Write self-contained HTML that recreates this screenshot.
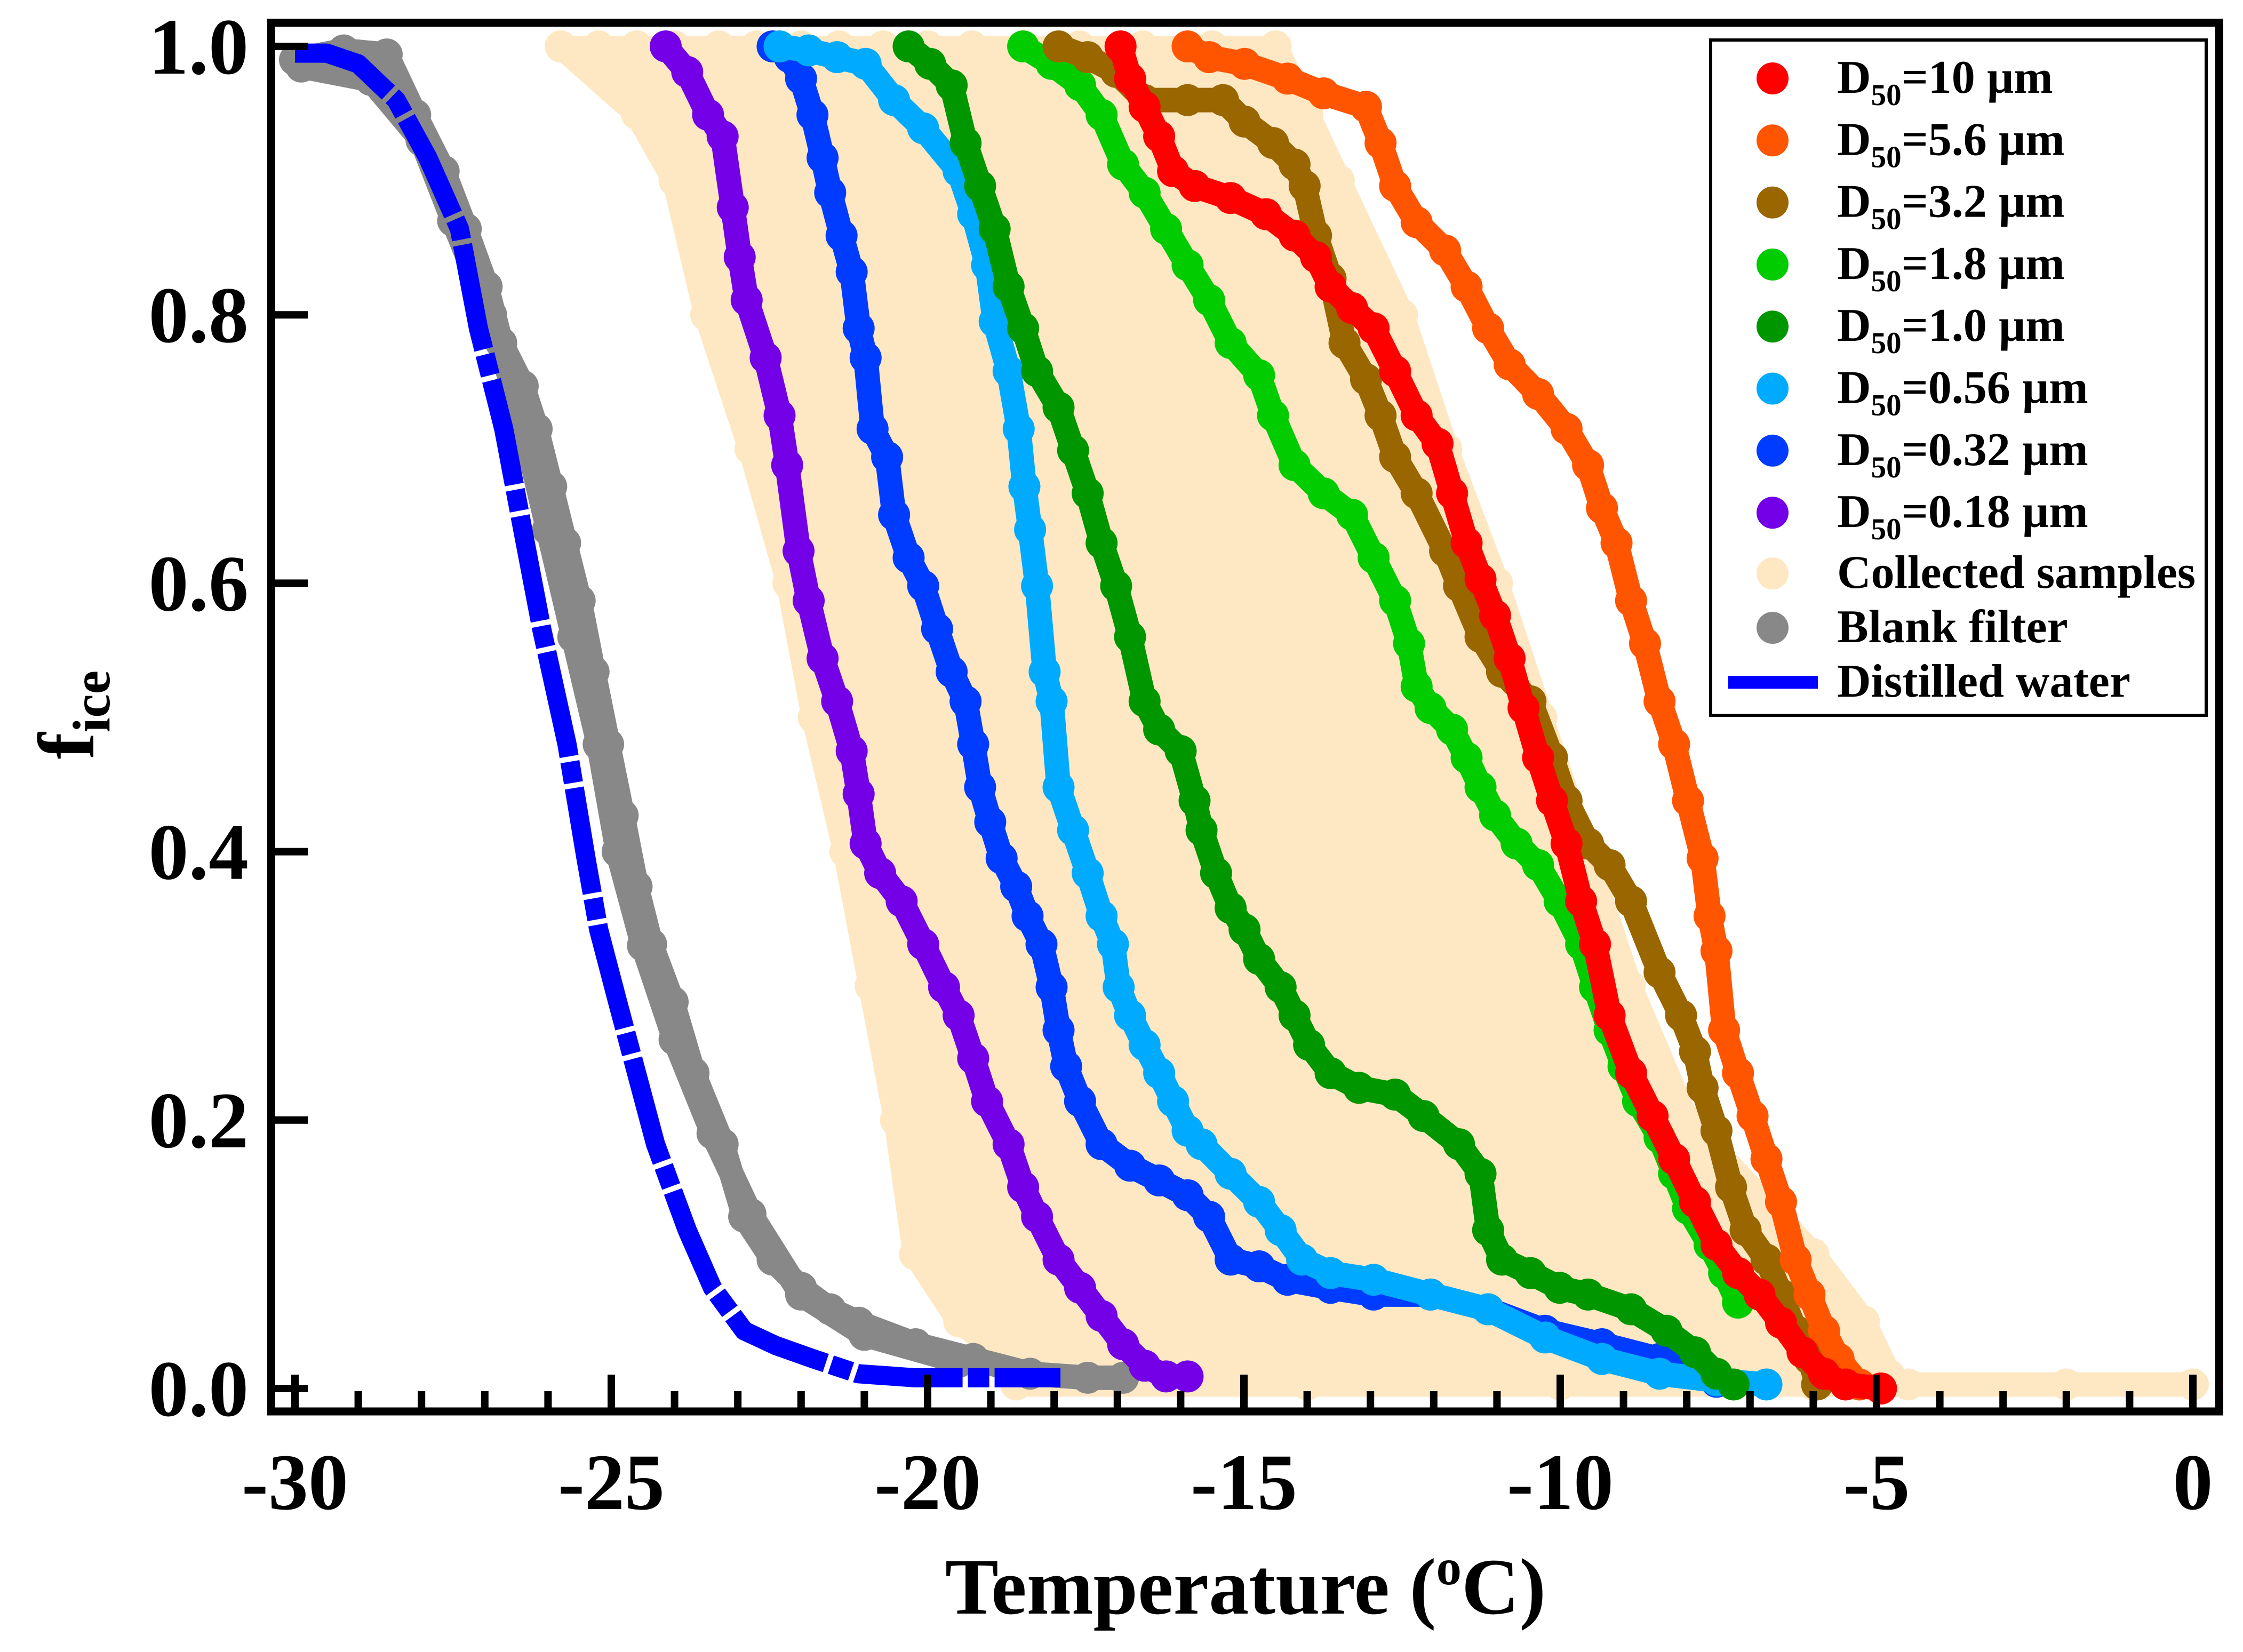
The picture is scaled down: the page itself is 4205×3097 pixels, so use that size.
<!DOCTYPE html>
<html><head><meta charset="utf-8"><style>
html,body{margin:0;padding:0;background:#fff}
svg{display:block}
text{font-family:"Liberation Serif",serif;font-weight:bold;fill:#000}
</style></head><body>
<svg id="chart" width="4205" height="3097" viewBox="0 0 4205 3097" xmlns="http://www.w3.org/2000/svg">
<g id="plot"></g>
<g id="axes"></g>
<g id="legend"></g>
</svg>
<script>
// ---- data (temperature in °C, frozen fraction f_ice) ----
const xTicks = [-30, -25, -20, -15, -10, -5, 0];
const xTickLabels = ["-30", "-25", "-20", "-15", "-10", "-5", "0"];
const yTicks = [0, 0.2, 0.4, 0.6, 0.8, 1.0];
const yTickLabels = ["0.0", "0.2", "0.4", "0.6", "0.8", "1.0"];

const waterT = [-30,-29.5,-29,-28.4,-27.9,-27.4,-27.1,-26.7,-26.4,-26.1,-25.7,-25.4,-25.2,-24.9,-24.6,-24.3,-23.8,-23.4,-22.9,-22.4,-21.8,-21.1,-20.2,-18.8,-17.9];
const waterF = [0.995,0.995,0.987,0.96,0.917,0.864,0.79,0.715,0.64,0.566,0.48,0.395,0.342,0.288,0.235,0.182,0.118,0.075,0.043,0.032,0.022,0.011,0.008,0.008,0.008];

const blankT = [-30.0,-29.23,-28.55,-28.1,-27.65,-27.3,-26.97,-26.74,-26.4,-26.18,-25.95,-25.73,-25.5,-25.28,-25.05,-24.82,-24.6,-24.37,-24.03,-23.7,-23.24,-22.9,-22.45,-22.0,-21.54,-21.09,-20.19,-19.28,-18.38,-17.47,-16.91];
const blankF = [0.99,0.997,0.994,0.949,0.907,0.864,0.821,0.779,0.747,0.715,0.672,0.63,0.587,0.534,0.48,0.427,0.374,0.331,0.288,0.235,0.182,0.128,0.096,0.075,0.059,0.049,0.033,0.022,0.011,0.008,0.008];
const blank2T = [-29.9,-28.8,-28.0,-27.5,-26.9,-26.4,-26.0,-25.6,-25.2,-24.9,-24.5,-24.0,-23.4,-22.8,-22.0,-21.0,-19.5];
const blank2F = [0.985,0.975,0.93,0.87,0.8,0.72,0.64,0.56,0.48,0.4,0.33,0.26,0.19,0.13,0.07,0.04,0.02];

const d018T = [-24.14,-23.8,-23.47,-23.24,-23.08,-22.97,-22.86,-22.56,-22.34,-22.22,-22.04,-21.88,-21.66,-21.43,-21.2,-21.09,-20.98,-20.75,-20.41,-20.07,-19.74,-19.51,-19.28,-19.06,-18.72,-18.49,-18.27,-17.93,-17.59,-17.25,-16.91,-16.57,-16.23,-15.89];
const d018F = [1.0,0.981,0.949,0.933,0.88,0.843,0.811,0.768,0.725,0.688,0.624,0.587,0.544,0.512,0.475,0.443,0.406,0.384,0.363,0.331,0.299,0.278,0.246,0.214,0.182,0.15,0.128,0.096,0.075,0.054,0.033,0.017,0.009,0.009];

const d032T = [-22.45,-22.18,-22.0,-21.82,-21.66,-21.54,-21.36,-21.2,-21.09,-20.98,-20.87,-20.64,-20.53,-20.3,-20.07,-19.85,-19.62,-19.4,-19.28,-19.17,-19.01,-18.83,-18.6,-18.42,-18.2,-18.04,-17.93,-17.81,-17.59,-17.25,-16.8,-16.34,-15.89,-15.55,-15.21,-14.76,-14.31,-13.63,-12.95,-12.05,-11.14,-10.24,-9.34,-8.43,-7.87,-7.53];
const d032F = [1.0,0.992,0.976,0.949,0.917,0.891,0.859,0.832,0.79,0.768,0.715,0.694,0.651,0.619,0.598,0.566,0.534,0.512,0.48,0.448,0.422,0.395,0.374,0.352,0.331,0.299,0.267,0.24,0.214,0.182,0.166,0.155,0.144,0.128,0.096,0.091,0.081,0.075,0.07,0.07,0.059,0.043,0.033,0.022,0.011,0.005];

const d056T = [-22.34,-21.88,-21.43,-20.98,-20.53,-20.07,-19.51,-19.28,-19.06,-18.94,-18.72,-18.56,-18.47,-18.38,-18.27,-18.15,-18.04,-17.93,-17.7,-17.47,-17.25,-17.07,-16.98,-16.8,-16.57,-16.34,-16.12,-15.89,-15.67,-15.21,-14.76,-14.42,-14.08,-13.63,-12.95,-12.05,-11.14,-10.24,-9.34,-8.43,-7.53,-6.74];
const d056F = [1.0,0.997,0.992,0.987,0.96,0.939,0.907,0.875,0.837,0.795,0.758,0.715,0.672,0.64,0.598,0.534,0.512,0.448,0.416,0.384,0.352,0.331,0.299,0.278,0.256,0.235,0.214,0.192,0.182,0.16,0.139,0.118,0.096,0.086,0.081,0.07,0.059,0.038,0.022,0.011,0.006,0.003];

const d10T = [-20.3,-19.96,-19.62,-19.4,-19.17,-18.94,-18.72,-18.49,-18.27,-17.93,-17.7,-17.47,-17.25,-17.02,-16.8,-16.57,-16.34,-16.0,-15.78,-15.67,-15.44,-15.21,-14.99,-14.76,-14.42,-14.2,-13.97,-13.63,-13.18,-12.61,-12.16,-11.6,-11.26,-11.14,-10.92,-10.47,-10.01,-9.56,-8.88,-8.32,-7.87,-7.53,-7.26];
const d10F = [1.0,0.987,0.971,0.928,0.896,0.864,0.821,0.79,0.758,0.731,0.699,0.667,0.63,0.598,0.56,0.512,0.491,0.475,0.438,0.416,0.384,0.358,0.342,0.32,0.299,0.278,0.256,0.235,0.224,0.219,0.203,0.182,0.16,0.118,0.096,0.086,0.075,0.07,0.059,0.043,0.027,0.011,0.003];

const d18T = [-18.49,-18.04,-17.59,-17.25,-16.91,-16.57,-16.23,-15.89,-15.55,-15.21,-14.76,-14.54,-14.2,-13.74,-13.29,-12.95,-12.61,-12.39,-12.27,-12.05,-11.71,-11.48,-11.26,-11.03,-10.69,-10.35,-10.01,-9.67,-9.45,-9.22,-9.0,-8.77,-8.43,-8.2,-7.98,-7.64,-7.41,-7.19];
const d18F = [1.0,0.987,0.971,0.949,0.912,0.891,0.864,0.837,0.811,0.779,0.755,0.725,0.688,0.667,0.651,0.619,0.587,0.555,0.523,0.507,0.491,0.47,0.448,0.427,0.406,0.39,0.363,0.331,0.299,0.267,0.24,0.214,0.187,0.16,0.134,0.107,0.086,0.064];

const d32T = [-17.93,-17.47,-17.02,-16.57,-15.89,-15.33,-14.99,-14.54,-14.2,-14.04,-13.86,-13.63,-13.41,-13.07,-12.84,-12.61,-12.27,-11.82,-11.6,-11.26,-10.92,-10.47,-10.13,-9.9,-9.56,-9.22,-8.88,-8.43,-8.09,-7.87,-7.75,-7.53,-7.3,-7.07,-6.74,-6.51,-6.28,-6.06,-5.94];
const d32F = [1.0,0.992,0.981,0.96,0.96,0.96,0.944,0.928,0.912,0.896,0.859,0.827,0.779,0.752,0.725,0.694,0.667,0.624,0.598,0.56,0.534,0.512,0.47,0.438,0.406,0.39,0.363,0.31,0.278,0.251,0.224,0.192,0.15,0.118,0.096,0.07,0.043,0.022,0.003];

const d56T = [-15.89,-15.55,-14.99,-14.31,-13.74,-13.07,-12.84,-12.61,-12.27,-11.82,-11.48,-11.14,-10.8,-10.35,-9.9,-9.56,-9.34,-9.11,-8.88,-8.66,-8.43,-8.2,-7.98,-7.75,-7.64,-7.53,-7.41,-7.19,-6.96,-6.74,-6.51,-6.28,-6.06,-5.83,-5.6,-5.27,-4.93];
const d56F = [1.0,0.992,0.987,0.976,0.965,0.955,0.928,0.896,0.869,0.848,0.821,0.79,0.763,0.741,0.715,0.688,0.656,0.63,0.587,0.555,0.512,0.48,0.438,0.395,0.352,0.326,0.267,0.235,0.203,0.171,0.139,0.096,0.07,0.043,0.022,0.003,0.0];

const d100T = [-16.95,-16.8,-16.57,-16.34,-16.12,-15.78,-15.21,-14.65,-14.2,-13.86,-13.63,-13.29,-12.95,-12.61,-12.27,-11.94,-11.71,-11.48,-11.26,-11.03,-10.8,-10.58,-10.35,-10.13,-9.9,-9.67,-9.45,-9.22,-8.88,-8.54,-8.2,-7.87,-7.53,-7.19,-6.85,-6.51,-6.17,-5.83,-5.49,-4.93];
const d100F = [1.0,0.976,0.955,0.933,0.907,0.896,0.887,0.875,0.859,0.843,0.821,0.805,0.79,0.758,0.725,0.704,0.667,0.63,0.603,0.576,0.544,0.507,0.47,0.438,0.406,0.363,0.331,0.278,0.235,0.203,0.171,0.139,0.107,0.086,0.07,0.049,0.027,0.011,0.003,0.0];

// collected samples: shared f-levels with temperatures per sample curve
const collF = [1.0,0.95,0.9,0.8,0.7,0.6,0.5,0.4,0.3,0.2,0.1,0.05,0.01];
const collLeftT  = [-25.8,-24.6,-24.0,-23.5,-22.8,-22.2,-21.8,-21.3,-20.9,-20.5,-20.2,-19.5,-18.4];
const collRightT = [-14.5,-14.0,-13.5,-12.5,-11.8,-11.0,-10.3,-9.6,-8.9,-8.0,-6.0,-5.2,-4.8];
const coll01 = [-25.2,-24.2,-23.6,-23.0,-22.3,-21.7,-21.2,-20.7,-20.2,-19.8,-19.3,-18.8,-17.9];
const coll02 = [-24.6,-23.7,-23.1,-22.4,-21.7,-21.1,-20.6,-20.0,-19.6,-19.0,-18.5,-18.0,-17.2];
const coll03 = [-24.0,-23.2,-22.6,-21.8,-21.1,-20.5,-19.9,-19.4,-18.9,-18.3,-17.7,-17.2,-16.5];
const coll04 = [-23.3,-22.6,-22.0,-21.2,-20.5,-19.9,-19.3,-18.7,-18.2,-17.6,-16.9,-16.3,-15.6];
const coll05 = [-22.7,-22.0,-21.5,-20.6,-19.9,-19.2,-18.6,-18.1,-17.5,-16.8,-16.1,-15.5,-14.7];
const coll06 = [-22.0,-21.4,-20.9,-20.0,-19.3,-18.6,-18.0,-17.4,-16.8,-16.1,-15.2,-14.5,-13.8];
const coll07 = [-21.4,-20.8,-20.3,-19.4,-18.6,-17.9,-17.3,-16.7,-16.1,-15.3,-14.4,-13.6,-12.8];
const coll08 = [-20.7,-20.2,-19.6,-18.7,-18.0,-17.3,-16.6,-16.0,-15.3,-14.5,-13.5,-12.7,-11.8];
const coll09 = [-20.0,-19.5,-19.0,-18.1,-17.3,-16.6,-15.9,-15.2,-14.5,-13.7,-12.6,-11.8,-10.8];
const coll10 = [-19.3,-18.8,-18.3,-17.4,-16.6,-15.8,-15.1,-14.4,-13.7,-12.8,-11.6,-10.8,-9.8];
const coll11 = [-18.5,-18.0,-17.5,-16.6,-15.8,-15.0,-14.2,-13.5,-12.8,-11.9,-10.6,-9.8,-8.8];
const coll12 = [-17.6,-17.1,-16.6,-15.7,-14.9,-14.1,-13.3,-12.6,-11.8,-10.9,-9.5,-8.6,-7.7];
const coll13 = [-16.6,-16.1,-15.6,-14.7,-13.9,-13.1,-12.3,-11.6,-10.8,-9.9,-8.3,-7.4,-6.6];
const coll14 = [-15.5,-15.0,-14.6,-13.6,-12.8,-12.0,-11.3,-10.6,-9.8,-8.9,-7.1,-6.2,-5.6];
const collBottomT = [-18.6,-14,-10,-6,-4.5,-2,0];
const collBottomF = [0.003,0.003,0.003,0.003,0.003,0.003,0.003];

// ---- scales ----
const X = t => 553 + (t + 30) * 118.6;
const Y = f => 2603 - f * 2516;
const NS = "http://www.w3.org/2000/svg";
const plot = document.getElementById("plot");
const axes = document.getElementById("axes");
const legend = document.getElementById("legend");
const R = 30;

function mk(tag, attrs, parent) {
  const e = document.createElementNS(NS, tag);
  for (const k in attrs) e.setAttribute(k, attrs[k]);
  parent.appendChild(e);
  return e;
}

function drawDots(T, F, color, name) {
  const g = mk("g", {}, plot);
  
  
  const pts = T.map((t, i) => X(t).toFixed(1) + "," + Y(F[i]).toFixed(1)).join(" ");
  const pl = mk("polyline", {points: pts, fill: "none", stroke: color, "stroke-width": 2 * R - 14, "stroke-linejoin": "round", "stroke-linecap": "round"}, g);
  
  
  T.forEach((t, i) => {
    const c = mk("circle", {cx: X(t), cy: Y(F[i]), r: R, fill: color}, g);
    
    
  });
}

// collected samples envelope + curves
const BEIGE = "#fde8c3";
const envPts = collLeftT.map((t, i) => X(t) + "," + Y(collF[i])).concat(collRightT.map((t, i) => X(t) + "," + Y(collF[i])).reverse()).join(" ");
const env = mk("polygon", {points: envPts, fill: BEIGE, stroke: BEIGE, "stroke-width": 40, "stroke-linejoin": "round"}, plot);


[collLeftT, coll01, coll02, coll03, coll04, coll05, coll06, coll07, coll08, coll09, coll10, coll11, coll12, coll13, coll14, collRightT].forEach(T => drawDots(T, collF, BEIGE, "collected-samples"));
drawDots(collBottomT, collBottomF, BEIGE, "collected-samples-baseline");

// blank filter
drawDots(blankT, blankF, "#888888", "blank-filter");
drawDots(blank2T, blank2F, "#888888", "blank-filter-b");

// distilled water
const wpts = waterT.map((t, i) => X(t).toFixed(1) + "," + Y(waterF[i]).toFixed(1)).join(" ");
const wline = mk("polyline", {points: wpts, fill: "none", stroke: "#0000ff", "stroke-width": 36, "stroke-dasharray": "200 10 40 10", "stroke-linejoin": "round"}, plot);



drawDots(d018T, d018F, "#7300e6", "d50-0.18um");
drawDots(d032T, d032F, "#003cff", "d50-0.32um");
drawDots(d056T, d056F, "#00aaff", "d50-0.56um");
drawDots(d10T, d10F, "#009600", "d50-1.0um");
drawDots(d18T, d18F, "#00cc00", "d50-1.8um");
drawDots(d32T, d32F, "#996600", "d50-3.2um");
drawDots(d56T, d56F, "#ff5500", "d50-5.6um");
drawDots(d100T, d100F, "#ff0000", "d50-10um");

// ---- axes ----
const frame = mk("rect", {x: 508.5, y: 42.5, width: 3652, height: 2603.5, fill: "none", stroke: "#000", "stroke-width": 15}, axes);


for (let t = -30; t <= 0; t++) {
  const major = (t % 5 === 0);
  const tk = mk("line", {x1: X(t), x2: X(t), y1: 2640, y2: major ? 2577 : 2608, stroke: "#000", "stroke-width": 14}, axes);
  
  
}
xTicks.forEach((t, i) => {
  const lb = mk("text", {x: X(t), y: 2829, "font-size": 150, "text-anchor": "middle"}, axes);
  lb.textContent = xTickLabels[i];
  
  
});
yTicks.forEach((f, i) => {
  const tk = mk("line", {x1: 515, x2: 577, y1: Y(f), y2: Y(f), stroke: "#000", "stroke-width": 14}, axes);
  
  
  const lb = mk("text", {x: 466, y: Y(f) + 51, "font-size": 150, "text-anchor": "end"}, axes);
  lb.textContent = yTickLabels[i];
  
  
});
const xt = mk("text", {x: 2335, y: 3025, "font-size": 150, "text-anchor": "middle"}, axes);
xt.innerHTML = 'Temperature (<tspan font-size="95" dy="-55">o</tspan><tspan dy="55">C)</tspan>';


const yt = mk("text", {x: 0, y: 0, "font-size": 150, "text-anchor": "middle", transform: "translate(175,1340) rotate(-90)"}, axes);
yt.innerHTML = 'f<tspan font-size="100" dy="30">ice</tspan>';



// ---- legend ----
const lbox = mk("rect", {x: 3207, y: 75, width: 929, height: 1266, fill: "#fff", stroke: "#000", "stroke-width": 6}, legend);


const legColors = ["#ff0000", "#ff5500", "#996600", "#00cc00", "#009600", "#00aaff", "#003cff", "#7300e6"];
const legSizes = ["10", "5.6", "3.2", "1.8", "1.0", "0.56", "0.32", "0.18"];
legSizes.forEach((s, i) => {
  const cy = 147 + i * 116.3;
  const m = mk("circle", {cx: 3323, cy: cy, r: 30, fill: legColors[i]}, legend);
  
  
  const tx = mk("text", {x: 3444, y: cy + 27, "font-size": 88}, legend);
  tx.innerHTML = 'D<tspan font-size="57" dy="23">50</tspan><tspan dy="-23">=' + s + ' µm</tspan>';
  
  
});
const c1 = mk("circle", {cx: 3323, cy: 1075, r: 30, fill: BEIGE}, legend);


const t1 = mk("text", {x: 3444, y: 1102, "font-size": 88}, legend);
t1.textContent = "Collected samples";


const c2 = mk("circle", {cx: 3323, cy: 1177, r: 30, fill: "#888888"}, legend);


const t2 = mk("text", {x: 3444, y: 1204, "font-size": 88}, legend);
t2.textContent = "Blank filter";


const l3 = mk("line", {x1: 3240, x2: 3408, y1: 1279, y2: 1279, stroke: "#0000ff", "stroke-width": 24}, legend);


const t3 = mk("text", {x: 3444, y: 1306, "font-size": 88}, legend);
t3.textContent = "Distilled water";


</script>
</body></html>
